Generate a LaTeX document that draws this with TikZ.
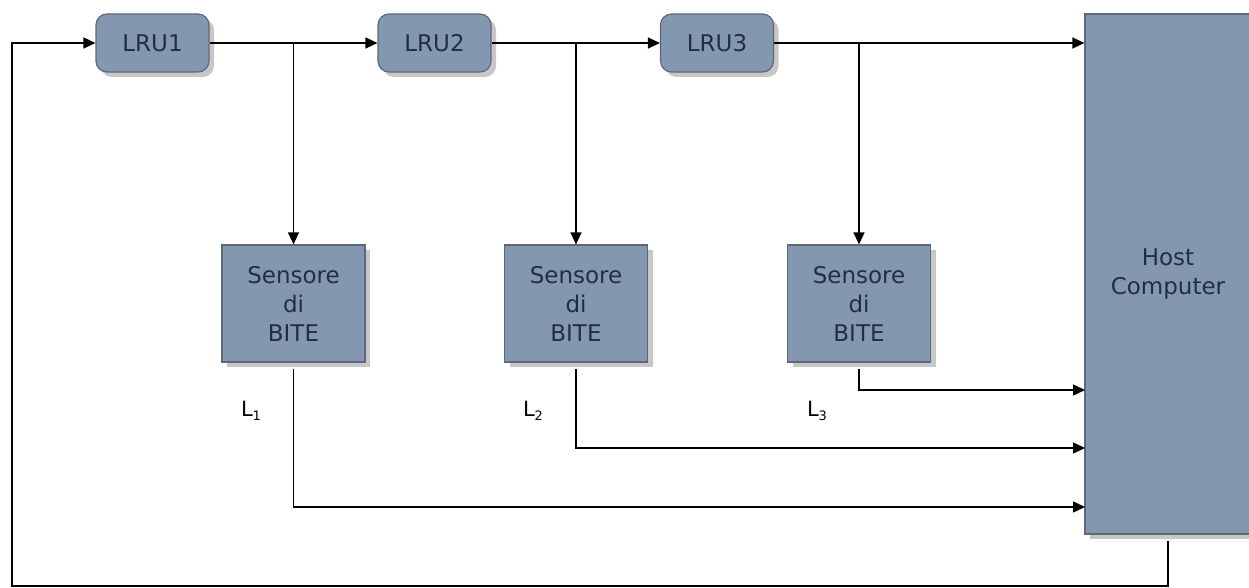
\documentclass[tikz,border=0pt]{standalone}
\usepackage{fontspec}
\setmainfont{DejaVu Sans}
\usetikzlibrary{arrows.meta,shadows}
\definecolor{boxfill}{RGB}{132,151,177}
\definecolor{boxline}{RGB}{95,104,118}
\definecolor{boxtext}{RGB}{35,45,70}
\begin{document}
\begin{tikzpicture}[x=1pt,y=-1pt,
  line width=1.4pt,
  arr/.style={-{Triangle[length=12pt,width=11pt]}},
  blk/.style={draw=boxline,line width=1.2pt,fill=boxfill,text=boxtext,
    font=\fontsize{23}{29}\selectfont,align=center,inner sep=0pt,
    drop shadow={shadow xshift=5pt,shadow yshift=-5pt,fill=black!22,opacity=1}},
  lru/.style={blk,rounded corners=11pt,minimum width=113pt,minimum height=58pt},
  sens/.style={blk,minimum width=143pt,minimum height=117pt},
  host/.style={blk,minimum width=166pt,minimum height=520pt},
  lab/.style={font=\fontsize{21}{24}\selectfont,text=black}]
\useasboundingbox (0,0) rectangle (1249,588);

% units along the chain
\node[lru] (l1) at (152.5,43) {LRU1};
\node[lru] (l2) at (434.5,43) {LRU2};
\node[lru] (l3) at (717,43) {LRU3};

% BITE sensors
\node[sens] (s1) at (293.5,303.5) {Sensore\\di\\BITE};
\node[sens] (s2) at (576,303.5) {Sensore\\di\\BITE};
\node[sens] (s3) at (859,303.5) {Sensore\\di\\BITE};

% host
\node[host] (hc) at (1168,274) {Host\\Computer};

% sensor labels
\node[lab] (L1) at (251,411) {L\raisebox{-4pt}{\fontsize{13}{13}\selectfont 1}};
\node[lab] (L2) at (533,411) {L\raisebox{-4pt}{\fontsize{13}{13}\selectfont 2}};
\node[lab] (L3) at (817,411) {L\raisebox{-4pt}{\fontsize{13}{13}\selectfont 3}};

% entry points on the host
\coordinate (h3) at (1085,390);
\coordinate (h2) at (1085,448);
\coordinate (h1) at (1085,507);
\coordinate (fb) at (12,586);

% main chain
\draw[arr] (l1.east) -- (l2.west);
\draw[arr] (l2.east) -- (l3.west);
\draw[arr] (l3.east) -- (l3.east -| hc.west);

% taps to the sensors
\draw[arr] (l1.east -| s1.north) -- (s1.north);
\draw[arr] (l2.east -| s2.north) -- (s2.north);
\draw[arr] (l3.east -| s3.north) -- (s3.north);

% sensor outputs to the host
\draw[arr] ([yshift=-6pt]s3.south) |- (h3);
\draw[arr] ([yshift=-6pt]s2.south) |- (h2);
\draw[arr] ([yshift=-6pt]s1.south) |- (h1);

% feedback to the first unit
\draw[arr] ([yshift=-6pt]hc.south) |- (fb) |- (l1.west);
\end{tikzpicture}
\end{document}
